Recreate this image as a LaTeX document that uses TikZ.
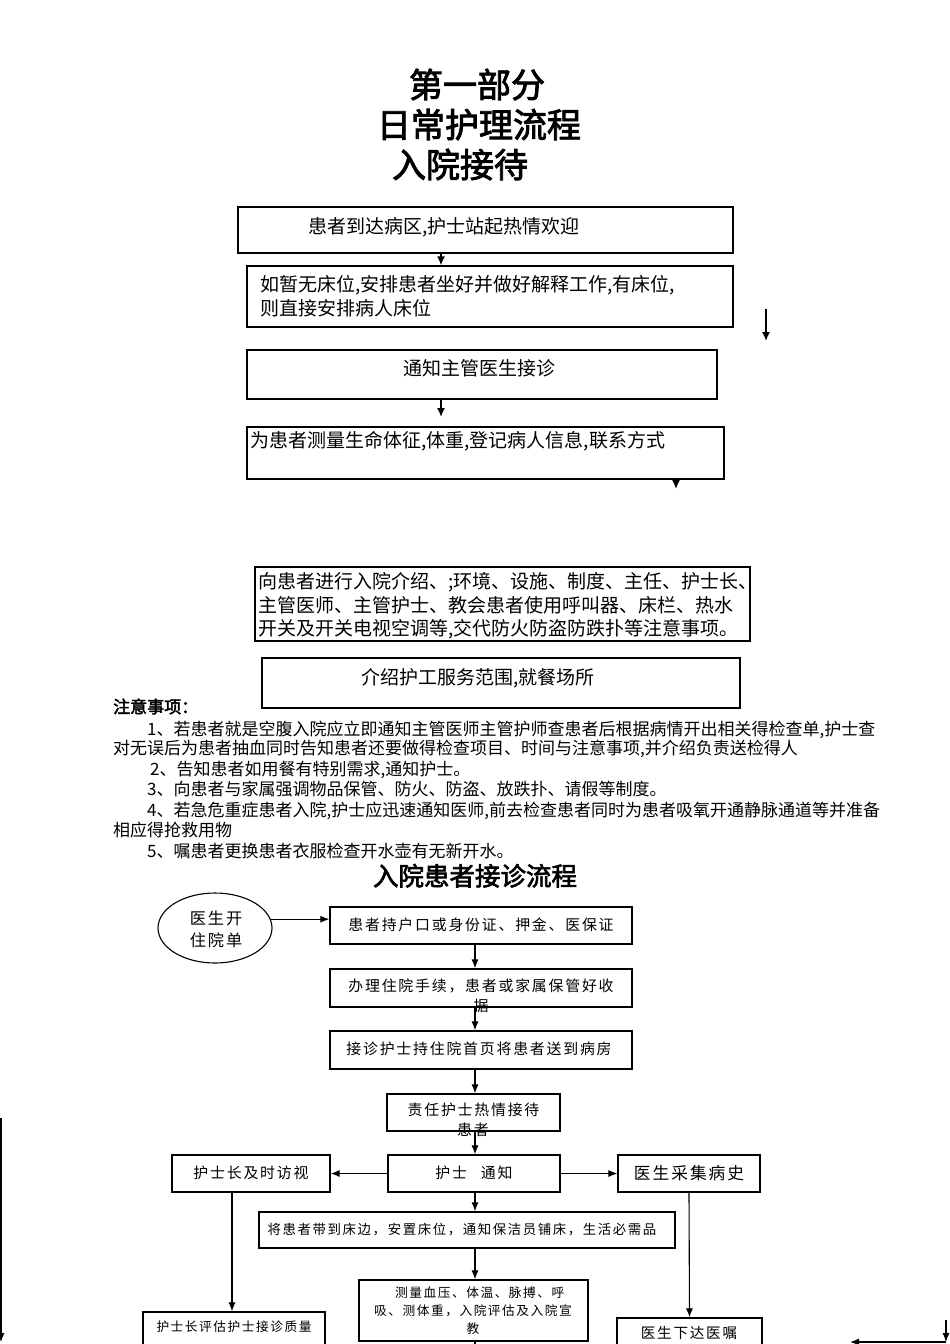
\documentclass[tikz,border=0pt]{standalone}
\usepackage{fontspec}
\setmainfont{Noto Sans CJK SC}
\newfontfamily\cjkbold[FakeBold=2.5]{Noto Sans CJK SC}
\newfontfamily\cjksp[LetterSpace=12]{Noto Sans CJK SC}
\usetikzlibrary{arrows.meta,shapes.geometric}
\newcommand\setfs[1]{\fontsize{#1}{#1}\selectfont}
\begin{document}
\begin{tikzpicture}[x=1pt,y=-1pt,
  box/.style={draw,line width=1.2pt,inner sep=0,rectangle},
  t/.style={inner sep=0,anchor=base},
  tw/.style={inner sep=0,anchor=base west},
  arrs/.style={-{Latex[length=9pt,width=8pt]},line width=1.5pt},
  arr/.style={-{Latex[length=9pt,width=7pt]},line width=1.1pt},
  ln/.style={line width=1.1pt}]
\clip (0,0) rectangle (950,1344);
\fill[white] (0,0) rectangle (950,1344);
% ---------- titles ----------
\node[t,font=\cjkbold\setfs{34}] (T1) at (477,97.5) {第一部分};
\node[t,font=\cjkbold\setfs{34}] (T2) at (479,137.5) {日常护理流程};
\node[t,font=\cjkbold\setfs{34}] (T3) at (460,177.5) {入院接待};
% ---------- top flow ----------
\node[box,minimum width=495,minimum height=46] (b1) at (485.5,230) {};
\node[box,minimum width=486,minimum height=61] (b2) at (490,296.5) {};
\node[box,minimum width=470,minimum height=49] (b3) at (482,374.5) {};
\node[box,minimum width=477,minimum height=52] (b4) at (485.5,453) {};
\node[box,minimum width=495,minimum height=74] (b5) at (502.5,604) {};
\node[box,minimum width=478,minimum height=50] (b6) at (501,683) {};
\begin{scope}[font=\setfs{19}]
\node[tw] (t1) at (308,233) {患者到达病区,护士站起热情欢迎};
\node[tw] (t2a) at (260,291) {如暂无床位,安排患者坐好并做好解释工作,有床位,};
\node[tw] (t2b) at (260,315) {则直接安排病人床位};
\node[t] (t3) at (479,375) {通知主管医生接诊};
\node[tw] (t4) at (250,447) {为患者测量生命体征,体重,登记病人信息,联系方式};
\node[tw] (t5a) at (258,588) {向患者进行入院介绍、;环境、设施、制度、主任、护士长、};
\node[tw] (t5b) at (258,612) {主管医师、主管护士、教会患者使用呼叫器、床栏、热水};
\node[tw] (t5c) at (258,635) {开关及开关电视空调等,交代防火防盗防跌扑等注意事项。};
\node[t] (t6) at (478,684) {介绍护工服务范围,就餐场所};
\end{scope}
\coordinate (ca) at (441,0);
\coordinate (cb) at (676,0);
\coordinate (a34) at (441,417);
\coordinate (a4e) at (676,489);
\coordinate (r1) at (766,309);
\coordinate (r2) at (766,341);
\draw[arrs] (b1.south -| ca) -- (b2.north -| ca);
\draw[arrs] (b3.south -| ca) -- (a34);
\draw[arrs] (b4.south -| cb) -- (a4e);
\draw[arrs] (r1) -- (r2);
% ---------- notes ----------
\node[tw,font=\cjkbold\setfs{17}] (n0) at (113,713) {注意事项：};
\begin{scope}[font=\setfs{17}]
\node[tw] (n1) at (147,735) {1、若患者就是空腹入院应立即通知主管医师主管护师查患者后根据病情开出相关得检查单,护士查};
\node[tw] (n2) at (113,754) {对无误后为患者抽血同时告知患者还要做得检查项目、时间与注意事项,并介绍负责送检得人};
\node[tw] (n3) at (150,775) {2、告知患者如用餐有特别需求,通知护士。};
\node[tw] (n4) at (147,795) {3、向患者与家属强调物品保管、防火、防盗、放跌扑、请假等制度。};
\node[tw] (n5) at (147,816) {4、若急危重症患者入院,护士应迅速通知医师,前去检查患者同时为患者吸氧开通静脉通道等并准备};
\node[tw] (n6) at (113,836) {相应得抢救用物};
\node[tw] (n7) at (147,857) {5、嘱患者更换患者衣服检查开水壶有无新开水。};
\end{scope}
% ---------- second flow ----------
\node[t,font=\cjkbold\setfs{25.5}] (T4) at (475,885.5) {入院患者接诊流程};
\node[draw,ellipse,line width=1.1pt,minimum width=114,minimum height=70,inner sep=0] (ell) at (215,928) {};
\node[box,minimum width=302,minimum height=37] (A) at (481,925.5) {};
\node[box,minimum width=302,minimum height=38] (B) at (481,988) {};
\node[box,minimum width=302,minimum height=38] (C) at (481,1050) {};
\node[box,minimum width=173,minimum height=37] (D) at (473.5,1112.5) {};
\node[box,minimum width=172,minimum height=37] (E) at (474,1173.5) {};
\node[box,minimum width=158,minimum height=37] (F) at (251,1173.5) {};
\node[box,minimum width=142,minimum height=37] (G) at (689,1173.5) {};
\node[box,minimum width=416,minimum height=36] (H) at (467,1230) {};
\node[box,minimum width=182,minimum height=58] (I) at (234,1341) {};
\node[box,minimum width=229,minimum height=61] (J) at (473.5,1310.5) {};
\node[box,minimum width=145,minimum height=52] (K) at (689.5,1344) {};
\begin{scope}[font=\cjksp\setfs{14.9}]
\node[t,font=\cjksp\setfs{16.2}] (e1) at (216,924.2) {医生开};
\node[t,font=\cjksp\setfs{16.2}] (e2) at (216,946.2) {住院单};
\node[t] (tA) at (481,930.6) {患者持户口或身份证、押金、医保证};
\node[t] (tB1) at (481,991.6) {办理住院手续，患者或家属保管好收};
\node[t] (tB2) at (481,1011.6) {据};
\node[t] (tC) at (479,1054.6) {接诊护士持住院首页将患者送到病房};
\node[t] (tD1) at (473.5,1115.6) {责任护士热情接待};
\node[t] (tD2) at (473,1135.6) {患者};
\node[t] (tE) at (474,1178.6) {护士\hspace{14pt}通知};
\node[t] (tF) at (251,1178.6) {护士长及时访视};
\node[t,font=\cjksp\setfs{16.7}] (tG) at (689,1179.2) {医生采集病史};
\node[t,font=\cjksp\setfs{13.4}] (tH) at (462,1234.1) {将患者带到床边，安置床位，通知保洁员铺床，生活必需品};
\node[t,font=\cjksp\setfs{12.7}] (tI) at (234,1331.8) {护士长评估护士接诊质量};
\node[tw,font=\cjksp\setfs{12.7}] (tJ1) at (395,1297.8) {测量血压、体温、脉搏、呼};
\node[t,font=\cjksp\setfs{12.7}] (tJ2) at (473,1315.8) {吸、测体重，入院评估及入院宣};
\node[t,font=\cjksp\setfs{12.7}] (tJ3) at (473,1333.8) {教};
\node[t,font=\cjksp\setfs{14.6}] (tK) at (689,1338.5) {医生下达医嘱};
\end{scope}
\coordinate (mx) at (475,0);
\coordinate (lx) at (232,0);
\coordinate (jend) at (475,1350);
\draw[arr] (ell.9) -- (ell.9 -| A.west);
\draw[arr] (A.south -| mx) -- (B.north -| mx);
\draw[arr] (B.south -| mx) -- (C.north -| mx);
\draw[arr] (C.south -| mx) -- (D.north -| mx);
\draw[arr] (D.south -| mx) -- (E.north -| mx);
\draw[arr] (E.west) -- (E.west -| F.east);
\draw[arr] (E.east) -- (E.east -| G.west);
\draw[arr] (E.south -| mx) -- (H.north -| mx);
\draw[arr] (F.south -| lx) -- (I.north -| lx);
\draw[arr] (G.south) -- (K.north);
\draw[arr] (H.south -| mx) -- (J.north -| mx);
\draw[ln] (J.south -| mx) -- (jend);
% ---------- page edge fragments ----------
\coordinate (l1) at (1,1118);
\coordinate (l2) at (1,1342);
\draw[arr] (l1) -- (l2);
\coordinate (q1) at (946,1320);
\coordinate (q2) at (946,1342);
\coordinate (q3) at (850,1342);
\draw[arr] (q1) -- (q2);
\draw[arr] (q2) -- (q3);
\end{tikzpicture}
\end{document}
